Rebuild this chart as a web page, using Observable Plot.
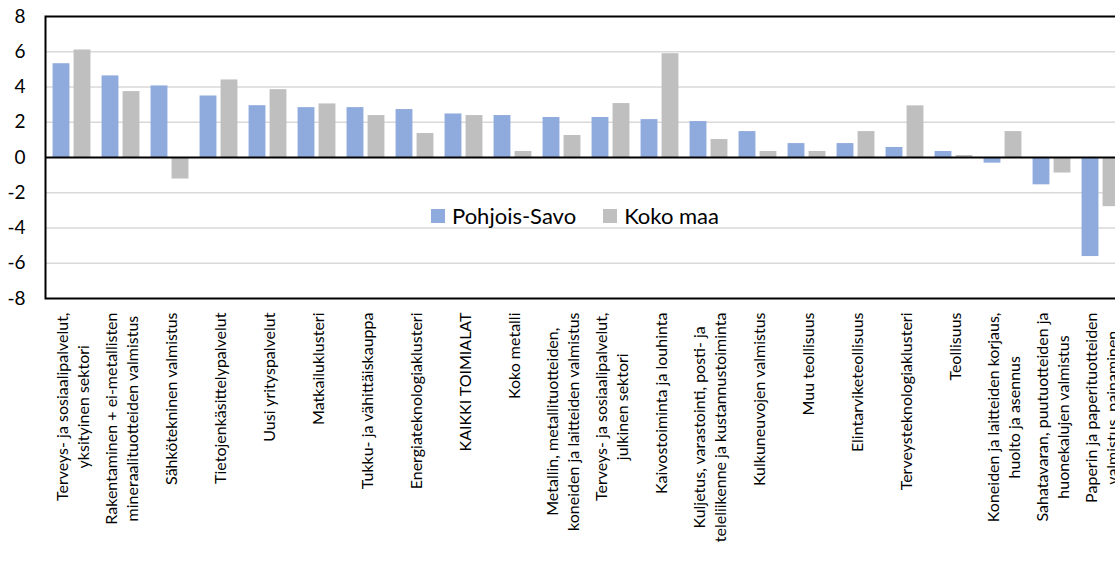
<!DOCTYPE html>
<html><head><meta charset="utf-8">
<script src="https://cdn.jsdelivr.net/npm/d3@7"></script>
<script src="https://cdn.jsdelivr.net/npm/@observablehq/plot@0.6"></script>
<style>
html,body{margin:0;padding:0;background:#fff;overflow:hidden;width:1115px;height:564px;}
#chart{position:relative;width:1127px;height:564px;}
#legend{position:absolute;left:431px;top:203px;display:flex;align-items:center;font-family:Lato,sans-serif;font-size:22px;line-height:26px;color:#000;white-space:nowrap;}
#legend .sw{display:inline-block;width:14px;height:14px;margin-right:7px;}
#legend .item{display:flex;align-items:center;margin-right:27px;}
</style></head><body><div id="chart"></div>
<script>
const categories = [
  "Terveys- ja sosiaalipalvelut,\nyksityinen sektori",
  "Rakentaminen + ei-metallisten\nmineraalituotteiden valmistus",
  "Sähkötekninen valmistus",
  "Tietojenkäsittelypalvelut",
  "Uusi yrityspalvelut",
  "Matkailuklusteri",
  "Tukku- ja vähittäiskauppa",
  "Energiateknologiaklusteri",
  "KAIKKI TOIMIALAT",
  "Koko metalli",
  "Metallin, metallituotteiden,\nkoneiden ja laitteiden valmistus",
  "Terveys- ja sosiaalipalvelut,\njulkinen sektori",
  "Kaivostoiminta ja louhinta",
  "Kuljetus, varastointi, posti- ja\nteleliikenne ja kustannustoiminta",
  "Kulkuneuvojen valmistus",
  "Muu teollisuus",
  "Elintarviketeollisuus",
  "Terveysteknologiaklusteri",
  "Teollisuus",
  "Koneiden ja laitteiden korjaus,\nhuolto ja asennus",
  "Sahatavaran, puutuotteiden ja\nhuonekalujen valmistus",
  "Paperin ja paperituotteiden\nvalmistus, painaminen"
];
const pohjoisSavo = [5.32, 4.63, 4.06, 3.49, 2.94, 2.83, 2.83, 2.72, 2.47, 2.38, 2.27, 2.27, 2.15, 2.04, 1.47, 0.79, 0.79, 0.57, 0.34, -0.32, -1.55, -5.62];
const kokoMaa     = [6.10, 3.74, -1.22, 4.40, 3.85, 3.04, 2.38, 1.36, 2.38, 0.34, 1.25, 3.06, 5.89, 1.02, 0.34, 0.34, 1.47, 2.93, 0.11, 1.47, -0.88, -2.79];
const seriesNames = ["Pohjois-Savo", "Koko maa"];
const seriesColors = ["#8FAADC", "#BFBFBF"];
const yTicks = [-8, -6, -4, -2, 0, 2, 4, 6, 8];
const gridTicks = [-6, -4, -2, 2, 4, 6];

const rows = categories.map((c, i) => ({category: c, savo: pohjoisSavo[i], maa: kokoMaa[i]}));

const W = 1127, H = 564, mL = 45, mR = 1, mT = 16, mB = 266;
const band = (W - mL - mR) / categories.length;
const barW = 17, gap = 2;

const chart = Plot.plot({
  width: W, height: H,
  marginLeft: mL, marginRight: mR, marginTop: mT, marginBottom: mB,
  style: {fontFamily: "Lato, sans-serif", background: "white", color: "black", overflow: "visible"},
  x: {domain: categories, padding: 0, label: null},
  y: {domain: [-8, 8], label: null},
  marks: [
    Plot.ruleY(gridTicks, {stroke: "#d9d9d9", strokeWidth: 1.4}),
    Plot.barY(rows, {x: "category", y: "savo", fill: seriesColors[0],
      insetLeft: band / 2 - gap - barW, insetRight: band / 2 + gap}),
    Plot.barY(rows, {x: "category", y: "maa", fill: seriesColors[1],
      insetLeft: band / 2 + gap, insetRight: band / 2 - gap - barW}),
    Plot.ruleY([0], {stroke: "black", strokeWidth: 2}),
    Plot.frame({stroke: "black", strokeWidth: 2}),
    Plot.axisY({ticks: yTicks, tickSize: 0, tickPadding: 20, fontSize: 19, label: null, tickFormat: d => String(d)}),
    Plot.axisX({tickSize: 0, tickPadding: 14, tickRotate: -90, fontSize: 16, lineHeight: 1.3, label: null})
  ]
});

const host = document.getElementById("chart");
host.appendChild(chart);

// center-align the lines of each multi-line category label (as in the original)
d3.select(chart).selectAll('g[aria-label="x-axis tick label"] text').each(function() {
  const tspans = this.querySelectorAll("tspan");
  if (tspans.length < 2) return;
  let max = 0;
  tspans.forEach(t => { max = Math.max(max, t.getComputedTextLength()); });
  this.setAttribute("text-anchor", "middle");
  tspans.forEach(t => t.setAttribute("x", -max / 2));
});

// legend
const legend = document.createElement("div");
legend.id = "legend";
seriesNames.forEach((name, i) => {
  const item = document.createElement("span");
  item.className = "item";
  const sw = document.createElement("span");
  sw.className = "sw";
  sw.style.background = seriesColors[i];
  const label = document.createElement("span");
  label.textContent = name;
  item.appendChild(sw);
  item.appendChild(label);
  legend.appendChild(item);
});
host.appendChild(legend);
</script>
</body></html>
